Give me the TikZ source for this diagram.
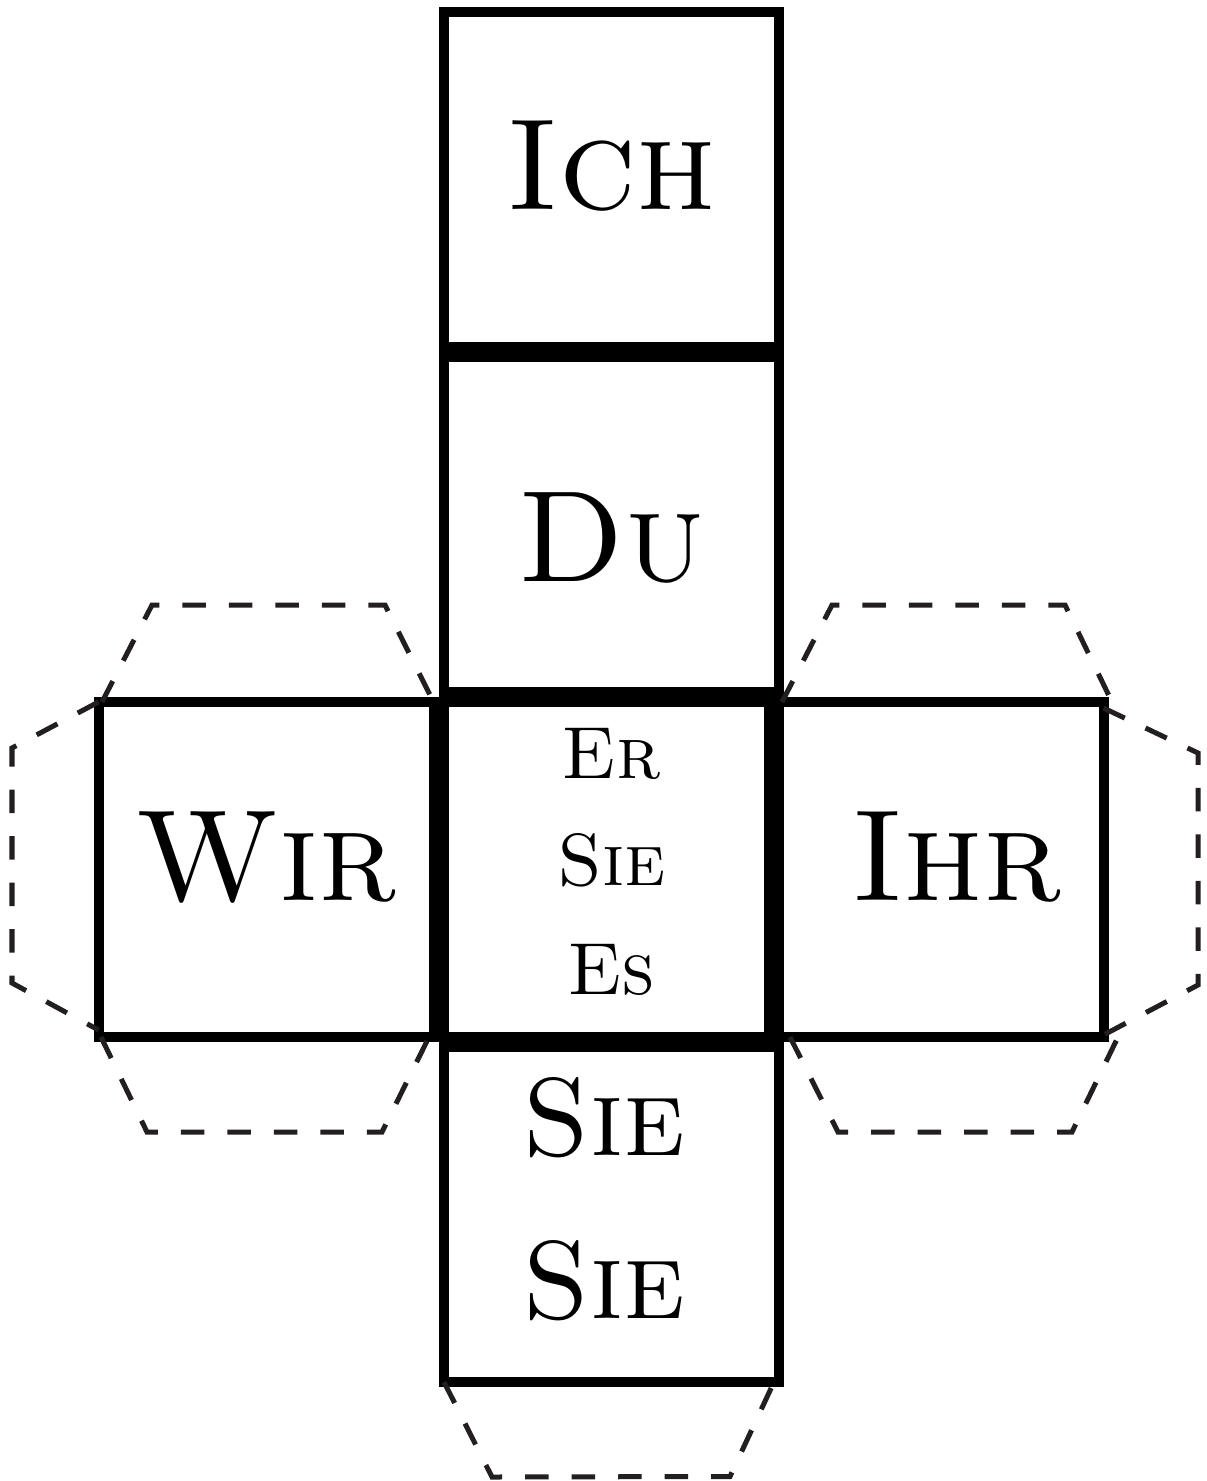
\documentclass[tikz,border=0pt]{standalone}
\usetikzlibrary{positioning}
\definecolor{flapgray}{HTML}{231F20}

\begin{document}
\begin{tikzpicture}[node distance=0.2cm, line join=miter]
  \tikzstyle{face}=[draw, line width=0.2cm, minimum size=6.7cm, inner sep=0pt, outer sep=0pt]
  \tikzstyle{flap}=[draw=flapgray, line width=0.1cm, dash pattern=on 0.47cm off 0.46cm]
  \tikzstyle{gross}=[anchor=base, font=\fontsize{74}{80}\selectfont\scshape]
  \tikzstyle{mittel}=[anchor=base, font=\fontsize{63}{70}\selectfont\scshape]
  \tikzstyle{klein}=[anchor=base, font=\fontsize{42}{48}\selectfont\scshape]

  \useasboundingbox (0,0) rectangle (24.12,-29.62);

  % column of faces
  \node[face] (ich)   at (12.23,-3.59)   {};
  \node[face] (du)    [below=of ich]     {};
  \node[face] (mitte) [below=of du]      {};
  \node[face] (sie)   [below=of mitte]   {};
  % row of faces
  \node[face] (zeile) at ([xshift=-0.21cm]mitte) {};
  \node[face] (wir)   [left=0cm of zeile]  {};
  \node[face] (ihr)   [right=0cm of zeile] {};

  % glue flaps
  \draw[flap] ([xshift=0.07cm]wir.north west) -- ++(1,1.94)
        -- ([shift={(-0.97,1.94)}]wir.north east) -- (wir.north east);
  \draw[flap] ([xshift=0.05cm]wir.south west) -- ++(0.92,-1.9)
        -- ([shift={(-1.03,-1.9)}]wir.south east) -- ([xshift=-0.09cm]wir.south east);
  \draw[flap] (wir.north west) -- ++(-1.73,-0.92)
        -- ([shift={(-1.73,1.08)}]wir.south west) -- ([yshift=0.14cm]wir.south west);
  \draw[flap] ([xshift=0.27cm]ihr.north west) -- ++(1,1.94)
        -- ([shift={(-0.77,1.94)}]ihr.north east) -- ([xshift=0.17cm]ihr.north east);
  \draw[flap] ([xshift=0.43cm]ihr.south west) -- ++(0.96,-1.9)
        -- ([shift={(-0.63,-1.9)}]ihr.south east) -- ([xshift=0.29cm]ihr.south east);
  \draw[flap] ([yshift=-0.12cm]ihr.north east) -- ++(1.89,-0.9)
        -- ([shift={(1.89,1.04)}]ihr.south east) -- ([yshift=0.04cm]ihr.south east);
  \draw[flap] (sie.south west) -- ++(0.96,-1.9)
        -- ([shift={(-0.98,-1.89)}]sie.south east) -- ([xshift=-0.1cm]sie.south east);

  % labels
  \node[gross]  (t-ich)  at ([yshift=-0.61cm]ich)            {Ich};
  \node[gross]  (t-du)   at ([yshift=-1.14cm]du)             {Du};
  \node[gross]  (t-wir)  at ([yshift=-0.61cm]wir)            {Wir};
  \node[gross]  (t-ihr)  at ([shift={(0.41,-0.61)}]ihr)      {Ihr};
  \node[klein]  (t-er)   at ([yshift=1.83cm]mitte)           {Er};
  \node[klein]  (t-sie)  at ([yshift=-0.32cm]mitte)          {Sie};
  \node[klein]  (t-es)   at ([yshift=-2.49cm]mitte)          {Es};
  \node[mittel] (t-sie1) at ([shift={(-0.15,1.19)}]sie)      {Sie};
  \node[mittel] (t-sie2) at ([shift={(-0.15,-2.07)}]sie)     {Sie};
\end{tikzpicture}
\end{document}
